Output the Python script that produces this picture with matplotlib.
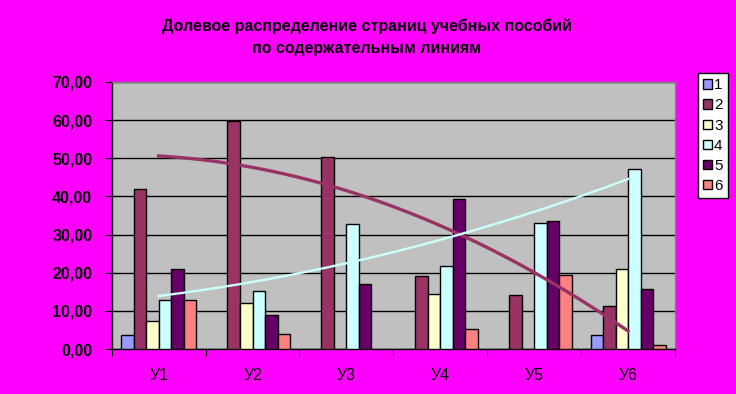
import numpy as np
import matplotlib
matplotlib.use("Agg")
import matplotlib.pyplot as plt

categories = ["У1", "У2", "У3", "У4", "У5", "У6"]
series_names = ["1", "2", "3", "4", "5", "6"]
s1 = [3.7, np.nan, np.nan, np.nan, np.nan, 3.7]
s2 = [41.9, 59.9, 50.4, 19.2, 14.2, 11.3]
s3 = [7.4, 12.1, np.nan, 14.4, np.nan, 21.0]
s4 = [12.9, 15.2, 32.8, 21.8, 33.1, 47.3]
s5 = [21.0, 8.9, 17.1, 39.4, 33.6, 15.7]
s6 = [12.9, 3.9, np.nan, 5.2, 19.4, 1.1]
series = [s1, s2, s3, s4, s5, s6]
colors = ["#9999FF", "#993366", "#FFFFCC", "#CCFFFF", "#660066", "#FF8080"]
yticks = [0, 10, 20, 30, 40, 50, 60, 70]

plt.rcParams['font.family'] = ['Liberation Sans', 'DejaVu Sans']

fig = plt.figure(figsize=(7.36, 3.94), dpi=100)
fig.patch.set_facecolor("#FF00FF")
ax = fig.add_axes([111.7/736, 1-349/394, (675-111.7)/736, (349-82)/394])
ax.set_facecolor("#C0C0C0")

n = len(categories)
w = 1/7.5
x = np.arange(n) + 0.5
handles = []
for j, (vals, c) in enumerate(zip(series, colors)):
    b = ax.bar(x + (j-2.5)*w, vals, width=w, color=c, edgecolor="black",
               linewidth=1.0, zorder=3, label=series_names[j])
    handles.append(b)

# polynomial (2nd order) trendlines for series 2 and 4
xi = np.arange(1, n+1)
xs = np.linspace(1, n, 200)
for vals, c, lw in [(s2, "#993366", 2.4), (s4, "#CCFFFF", 1.7)]:
    p = np.polyfit(xi, vals, 2)
    ax.plot(xs - 0.5, np.polyval(p, xs), color=c, linewidth=lw, zorder=4)

ax.set_xlim(0, n)
ax.set_ylim(0, 70)
ax.set_yticks(yticks)
ax.set_yticklabels([f"{v:.2f}".replace(".", ",") for v in yticks],
                   fontsize=11.5, fontweight="bold")
ax.yaxis.grid(True, color="black", linewidth=1.0, zorder=1)
ax.set_axisbelow(True)
ax.set_xticks(np.arange(n+1))
ax.set_xticklabels([])
ax.set_xticks(x, minor=True)
ax.set_xticklabels(categories, minor=True, fontsize=11.5)
ax.tick_params(axis="x", which="minor", length=0, pad=14)
ax.tick_params(axis="x", which="major", length=5, direction="out", color="black")
ax.tick_params(axis="y", length=5, direction="out", color="black", pad=9)
for side in ["top", "right"]:
    ax.spines[side].set_color("#808080")
    ax.spines[side].set_linewidth(1.0)
for side in ["left", "bottom"]:
    ax.spines[side].set_color("black")
    ax.spines[side].set_linewidth(1.0)

fig.text(367/736, 1-26/394, "Долевое распределение страниц учебных пособий",
         ha="center", va="center", fontsize=11.5, fontweight="bold")
fig.text(367/736, 1-48/394, "по содержательным линиям",
         ha="center", va="center", fontsize=11.5, fontweight="bold")

leg = fig.legend(handles=handles, loc="upper left",
                 bbox_to_anchor=(698/736, 1-73/394), fontsize=11,
                 frameon=True, fancybox=False, framealpha=1,
                 edgecolor="black", facecolor="white",
                 handlelength=0.55, handleheight=0.55, handletextpad=0.15,
                 labelspacing=0.4, borderpad=0.35, borderaxespad=0)
leg.get_frame().set_linewidth(1.0)

fig.savefig("out.png", dpi=100, facecolor=fig.get_facecolor())
